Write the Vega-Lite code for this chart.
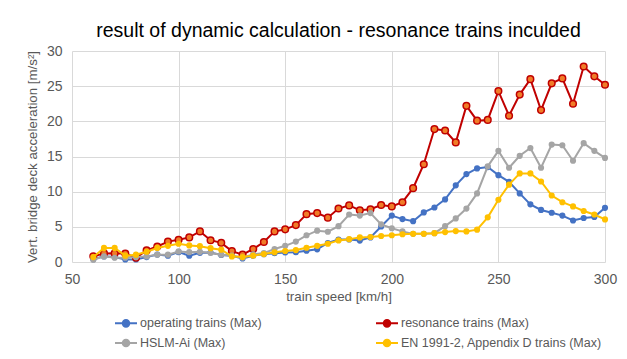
{
  "$schema": "https://vega.github.io/schema/vega-lite/v6.json",
  "autosize": {"type": "none"},
  "width": 533,
  "height": 211,
  "padding": {"left": 72, "top": 51, "right": 22, "bottom": 97},
  "background": "white",
  "config": {
    "view": {"stroke": null},
    "font": "Liberation Sans",
    "axis": {"labelFont": "Liberation Sans", "titleFont": "Liberation Sans", "labelColor": "#595959", "titleColor": "#595959", "titleFontWeight": "normal", "gridColor": "#D9D9D9", "gridWidth": 1, "domain": false, "ticks": false, "labelFontSize": 14, "titleFontSize": 13.3, "labelFlush": false},
    "legend": {"labelFont": "Liberation Sans", "labelColor": "#595959", "labelFontSize": 12.5, "labelLimit": 0}
  },
  "title": {"text": "result of dynamic calculation - resonance trains inculded", "fontSize": 19.5, "fontWeight": "normal", "font": "Liberation Sans", "color": "#000000", "anchor": "middle", "frame": "group", "offset": 3},
  "datasets": {
    "op": [
      {"s":60,"a":0.4},{"s":65,"a":0.8},{"s":70,"a":0.7},{"s":75,"a":0.35},{"s":80,"a":0.35},{"s":85,"a":0.7},{"s":90,"a":1.05},{"s":95,"a":0.9},{"s":100,"a":1.4},{"s":105,"a":0.9},{"s":110,"a":1.3},{"s":115,"a":1.35},{"s":120,"a":1.0},{"s":125,"a":0.9},{"s":130,"a":0.5},{"s":135,"a":0.9},{"s":140,"a":1.1},{"s":145,"a":1.25},{"s":150,"a":1.35},{"s":155,"a":1.4},{"s":160,"a":1.6},{"s":165,"a":1.8},{"s":170,"a":2.7},{"s":175,"a":3.2},{"s":180,"a":3.2},{"s":185,"a":3.05},{"s":190,"a":3.5},{"s":195,"a":5.05},{"s":200,"a":6.6},{"s":205,"a":6.1},{"s":210,"a":5.8},{"s":215,"a":7.05},{"s":220,"a":7.75},{"s":225,"a":8.9},{"s":230,"a":10.9},{"s":235,"a":12.5},{"s":240,"a":13.3},{"s":245,"a":13.5},{"s":250,"a":12.35},{"s":255,"a":11.4},{"s":260,"a":9.75},{"s":265,"a":8.2},{"s":270,"a":7.4},{"s":275,"a":7.0},{"s":280,"a":6.6},{"s":285,"a":5.9},{"s":290,"a":6.25},{"s":295,"a":6.4},{"s":300,"a":7.7}
    ],
    "res": [
      {"s":60,"a":0.8},{"s":65,"a":1.22},{"s":70,"a":1.25},{"s":75,"a":1.2},{"s":80,"a":0.6},{"s":85,"a":1.65},{"s":90,"a":2.2},{"s":95,"a":2.9},{"s":100,"a":3.17},{"s":105,"a":3.5},{"s":110,"a":4.35},{"s":115,"a":3.1},{"s":120,"a":2.72},{"s":125,"a":1.55},{"s":130,"a":1.04},{"s":135,"a":1.85},{"s":140,"a":2.84},{"s":145,"a":4.35},{"s":150,"a":4.64},{"s":155,"a":5.25},{"s":160,"a":6.8},{"s":165,"a":6.95},{"s":170,"a":6.3},{"s":175,"a":7.6},{"s":180,"a":8.05},{"s":185,"a":7.35},{"s":190,"a":7.5},{"s":195,"a":8.1},{"s":200,"a":7.9},{"s":205,"a":8.5},{"s":210,"a":10.5},{"s":215,"a":13.9},{"s":220,"a":18.9},{"s":225,"a":18.7},{"s":230,"a":17.0},{"s":235,"a":22.2},{"s":240,"a":20.1},{"s":245,"a":20.2},{"s":250,"a":24.3},{"s":255,"a":20.8},{"s":260,"a":23.8},{"s":265,"a":26.0},{"s":270,"a":21.6},{"s":275,"a":25.4},{"s":280,"a":26.1},{"s":285,"a":22.5},{"s":290,"a":27.8},{"s":295,"a":26.4},{"s":300,"a":25.2}
    ],
    "hslm": [
      {"s":60,"a":0.33},{"s":65,"a":0.8},{"s":70,"a":0.6},{"s":75,"a":0.6},{"s":80,"a":0.7},{"s":85,"a":0.8},{"s":90,"a":1.04},{"s":95,"a":1.04},{"s":100,"a":1.5},{"s":105,"a":1.4},{"s":110,"a":1.45},{"s":115,"a":1.28},{"s":120,"a":1.04},{"s":125,"a":0.9},{"s":130,"a":0.65},{"s":135,"a":1.08},{"s":140,"a":1.27},{"s":145,"a":1.85},{"s":150,"a":2.3},{"s":155,"a":2.9},{"s":160,"a":3.8},{"s":165,"a":4.45},{"s":170,"a":4.3},{"s":175,"a":5.1},{"s":180,"a":6.75},{"s":185,"a":6.6},{"s":190,"a":6.95},{"s":195,"a":5.35},{"s":200,"a":4.8},{"s":205,"a":4.35},{"s":210,"a":4.0},{"s":215,"a":4.0},{"s":220,"a":4.1},{"s":225,"a":5.1},{"s":230,"a":6.2},{"s":235,"a":7.6},{"s":240,"a":9.75},{"s":245,"a":13.6},{"s":250,"a":15.8},{"s":255,"a":13.4},{"s":260,"a":15.1},{"s":265,"a":16.2},{"s":270,"a":13.4},{"s":275,"a":16.7},{"s":280,"a":16.6},{"s":285,"a":14.4},{"s":290,"a":16.9},{"s":295,"a":15.8},{"s":300,"a":14.8}
    ],
    "en": [
      {"s":60,"a":0.7},{"s":65,"a":2.0},{"s":70,"a":2.0},{"s":75,"a":0.9},{"s":80,"a":1.04},{"s":85,"a":1.46},{"s":90,"a":2.0},{"s":95,"a":2.3},{"s":100,"a":2.6},{"s":105,"a":2.36},{"s":110,"a":2.25},{"s":115,"a":1.97},{"s":120,"a":1.75},{"s":125,"a":0.8},{"s":130,"a":0.7},{"s":135,"a":0.9},{"s":140,"a":1.13},{"s":145,"a":1.37},{"s":150,"a":1.56},{"s":155,"a":1.7},{"s":160,"a":2.03},{"s":165,"a":2.3},{"s":170,"a":2.6},{"s":175,"a":3.07},{"s":180,"a":3.25},{"s":185,"a":3.5},{"s":190,"a":3.55},{"s":195,"a":3.7},{"s":200,"a":3.8},{"s":205,"a":3.95},{"s":210,"a":4.0},{"s":215,"a":4.0},{"s":220,"a":4.1},{"s":225,"a":4.25},{"s":230,"a":4.4},{"s":235,"a":4.35},{"s":240,"a":4.6},{"s":245,"a":6.35},{"s":250,"a":8.85},{"s":255,"a":11.0},{"s":260,"a":12.6},{"s":265,"a":12.6},{"s":270,"a":11.45},{"s":275,"a":9.45},{"s":280,"a":8.5},{"s":285,"a":7.9},{"s":290,"a":7.25},{"s":295,"a":6.75},{"s":300,"a":6.05}
    ]
  },
  "encoding": {
    "x": {"field": "s", "type": "quantitative", "scale": {"domain": [50, 300], "nice": false}, "axis": {"values": [50, 100, 150, 200, 250, 300], "title": "train speed [km/h]", "labelPadding": 10, "titlePadding": 3}},
    "y": {"field": "a", "type": "quantitative", "scale": {"domain": [0, 30], "nice": false}, "axis": {"values": [0, 5, 10, 15, 20, 25, 30], "title": "Vert. bridge deck acceleration [m/s²]", "labelPadding": 10, "titlePadding": 7}}
  },
  "layer": [
    {"data": {"name": "op"}, "mark": {"type": "line", "strokeWidth": 2, "point": {"filled": true, "size": 38, "fill": "#4472C4"}},
      "encoding": {"color": {"datum": "operating trains (Max)", "type": "nominal",
        "scale": {"domain": ["operating trains (Max)", "resonance trains (Max)", "HSLM-Ai (Max)", "EN 1991-2, Appendix D trains (Max)"], "range": ["#4472C4", "#C00000", "#A5A5A5", "#FFC000"]},
        "legend": {"orient": "none", "legendX": 42, "legendY": 260, "direction": "horizontal", "columns": 2, "columnPadding": 110, "rowPadding": 0, "padding": 0, "title": null,
          "symbolType": "M-1,0H1M0.3,0A0.3,0.3,0,1,1,-0.3,0A0.3,0.3,0,1,1,0.3,0", "symbolSize": 484, "symbolStrokeWidth": 2, "labelOffset": 2,
          "encode": {"symbols": {"update": {"fill": {"signal": "datum.value === 'resonance trains (Max)' ? '#F07C28' : scale('color', datum.value)"}, "stroke": {"signal": "scale('color', datum.value)"}, "strokeWidth": {"value": 2}}}}}}}},
    {"data": {"name": "res"}, "mark": {"type": "line", "strokeWidth": 2, "point": {"filled": true, "size": 44, "fill": "#F07C28", "stroke": "#C00000", "strokeWidth": 1.5}},
      "encoding": {"color": {"datum": "resonance trains (Max)", "type": "nominal"}}},
    {"data": {"name": "hslm"}, "mark": {"type": "line", "strokeWidth": 2, "point": {"filled": true, "size": 38, "fill": "#A5A5A5"}},
      "encoding": {"color": {"datum": "HSLM-Ai (Max)", "type": "nominal"}}},
    {"data": {"name": "en"}, "mark": {"type": "line", "strokeWidth": 2, "point": {"filled": true, "size": 38, "fill": "#FFC000"}},
      "encoding": {"color": {"datum": "EN 1991-2, Appendix D trains (Max)", "type": "nominal"}}}
  ]
}
